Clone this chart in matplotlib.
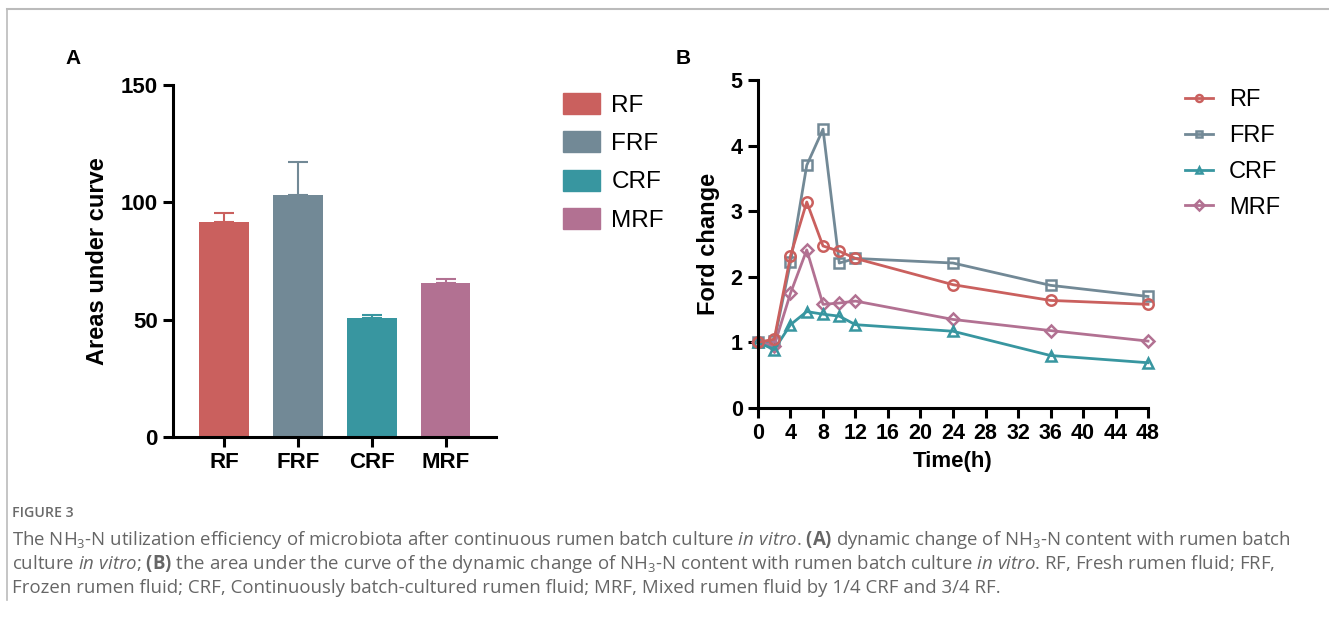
import numpy as np
import matplotlib
matplotlib.use('Agg')
import matplotlib.pyplot as plt
from matplotlib.patches import Patch
from matplotlib.lines import Line2D

plt.rcParams['font.family'] = ['Liberation Sans', 'DejaVu Sans']
plt.rcParams['mathtext.fontset'] = 'custom'
plt.rcParams['mathtext.rm'] = 'Open Sans'
plt.rcParams['mathtext.it'] = 'Open Sans:italic'
plt.rcParams['mathtext.bf'] = 'Open Sans:bold'

# panel A - area under curve
groups = ['RF', 'FRF', 'CRF', 'MRF']
auc_mean = [91.5, 103.2, 50.8, 65.5]
auc_err = [3.8, 13.8, 1.4, 1.8]

# panel B - fold change over time
hours = [0, 2, 4, 6, 8, 10, 12, 24, 36, 48]
rf_fc = [1.0, 1.05, 2.32, 3.14, 2.47, 2.39, 2.28, 1.88, 1.64, 1.58]
frf_fc = [1.0, 1.02, 2.22, 3.70, 4.25, 2.21, 2.28, 2.21, 1.87, 1.70]
crf_fc = [1.0, 0.89, 1.27, 1.47, 1.43, 1.40, 1.27, 1.17, 0.80, 0.69]
mrf_fc = [1.0, 0.95, 1.75, 2.41, 1.58, 1.60, 1.63, 1.35, 1.18, 1.02]

colors = {'RF': '#CA605E', 'FRF': '#728996', 'CRF': '#3896A0', 'MRF': '#B27192'}

fig = plt.figure(figsize=(13.29, 6.19), dpi=100)
W, H = 1329, 619

def fx(px):
    return px / W

def fy(py):
    return 1 - py / H

# frame lines round the figure block
fig.add_artist(Line2D([fx(7), fx(7)], [fy(600), fy(9)], color='#bbbbbb', lw=1.2))
fig.add_artist(Line2D([fx(7), 1.0], [fy(9), fy(9)], color='#bbbbbb', lw=1.5))

# ---- panel A
axA = fig.add_axes([fx(173), fy(437), fx(496 - 173), fy(85) - fy(437)])
xpos = np.arange(len(groups))
for i, g in enumerate(groups):
    axA.bar(xpos[i], auc_mean[i], width=0.67, color=colors[g], label=g, zorder=2)
    axA.errorbar(xpos[i], auc_mean[i], yerr=[[0], [auc_err[i]]], color=colors[g],
                 capsize=7, capthick=1.5, elinewidth=1.5, zorder=1)
axA.set_xlim(-0.69, 3.68)
axA.set_ylim(0, 150)
axA.set_yticks([0, 50, 100, 150])
axA.set_xticks(xpos)
axA.set_xticklabels(groups)
axA.set_ylabel('Areas under curve', fontsize=17, fontweight='bold', labelpad=8)

# ---- panel B
axB = fig.add_axes([fx(758), fy(408), fx(1148 - 758), fy(80) - fy(408)])
series = [('FRF', frf_fc, 's'), ('MRF', mrf_fc, 'D'), ('CRF', crf_fc, '^'), ('RF', rf_fc, 'o')]
for name, vals, mk in series:
    ms = 6.5 if mk == 'D' else 7.5
    axB.plot(hours, vals, color=colors[name], lw=2, marker=mk, ms=ms, mfc='none',
             mec=colors[name], mew=1.8, clip_on=False, label=name)
axB.set_xlim(0, 48)
axB.set_ylim(0, 5)
axB.set_xticks(range(0, 49, 4))
axB.set_yticks(range(0, 6))
axB.set_xlabel('Time(h)', fontsize=16, fontweight='bold', labelpad=5)
axB.set_ylabel('Ford change', fontsize=17, fontweight='bold', labelpad=8)

for ax, ls in ((axA, 16), (axB, 15.5)):
    for s in ('top', 'right'):
        ax.spines[s].set_visible(False)
    for s in ('left', 'bottom'):
        ax.spines[s].set_linewidth(2.2)
    ax.tick_params(width=2.2, length=7, labelsize=ls, pad=4)
    for lab in ax.get_xticklabels() + ax.get_yticklabels():
        lab.set_fontweight('bold')

# legends
handlesA = [Patch(color=colors[g], label=g) for g in groups]
fig.legend(handles=handlesA, loc='upper left', bbox_to_anchor=(fx(553), fy(83)),
           frameon=False, fontsize=17.5, handlelength=1.55, handleheight=0.95,
           handletextpad=0.45, labelspacing=0.6, borderaxespad=0)

mk_map = {'RF': 'o', 'FRF': 's', 'CRF': '^', 'MRF': 'D'}
handlesB = [Line2D([], [], color=colors[g], lw=2, marker=mk_map[g], ms=5, mfc='none',
                   mew=1.8, label=g) for g in groups]
fig.legend(handles=handlesB, loc='upper left', bbox_to_anchor=(fx(1176), fy(80)),
           frameon=False, fontsize=17, handlelength=1.15, handletextpad=0.7,
           labelspacing=0.58, borderaxespad=0)

fig.text(fx(65), fy(59), 'A', fontsize=15, fontweight='bold', va='center')
fig.text(fx(676), fy(59), 'B', fontsize=15, fontweight='bold', va='center')

# caption
cap_color = '#666666'
fig.text(fx(12), fy(513), 'FIGURE 3', fontsize=10.2, color='#6a6a6a', family='Open Sans',
         va='center', fontweight='semibold')
lines = [
    r'The NH$_3$-N utilization efficiency of microbiota after continuous rumen batch culture $\it{in\ vitro}$. '
    r'$\bf{(A)}$ dynamic change of NH$_3$-N content with rumen batch',
    r'culture $\it{in\ vitro}$; $\bf{(B)}$ the area under the curve of the dynamic change of NH$_3$-N content '
    r'with rumen batch culture $\it{in\ vitro}$. RF, Fresh rumen fluid; FRF,',
    'Frozen rumen fluid; CRF, Continuously batch-cultured rumen fluid; MRF, Mixed rumen fluid by 1/4 CRF and 3/4 RF.',
]
for k, t in enumerate(lines):
    fig.text(fx(12), fy(540 + 24 * k), t, fontsize=13.4, color=cap_color,
             family='Open Sans', va='center')

fig.savefig('out.png', dpi=100)
